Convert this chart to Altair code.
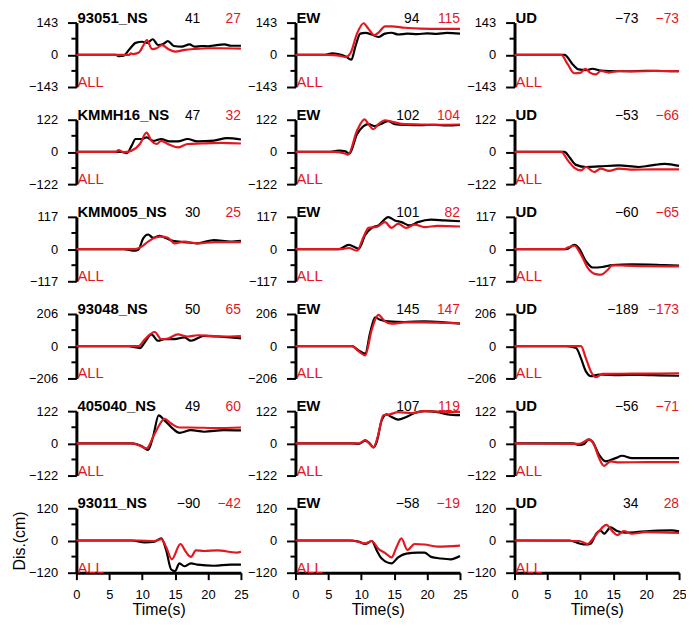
import altair as alt
import pandas as pd

FONT = "Liberation Sans"
RED = "#e4161f"

TIME_TICKS = [0, 5, 10, 15, 20, 25]
STATIONS = ["93051", "KMMH16", "KMM005", "93048", "405040", "93011"]
COMPONENTS = ["NS", "EW", "UD"]
AMPLITUDES = [143, 122, 117, 206, 122, 120]
FINAL_OBS = [[41, 94, -73], [47, 102, -53], [30, 101, -60], [50, 145, -189], [49, 107, -56], [-90, -58, 34]]
FINAL_ALL = [[27, 115, -73], [32, 104, -66], [25, 82, -65], [65, 147, -173], [60, 119, -71], [-42, -19, 28]]

# ---- station 93051 ----
S93051_NS_OBS = [(0, 0), (6, 0), (6.5, -6), (7.2, -4), (8, 22), (9, 53), (10, 58), (10.8, 53), (11.6, 69), (12.4, 43), (13.2, 48), (13.9, 61), (14.8, 39), (16, 36), (17.2, 46), (18, 36), (19, 39), (20, 38), (21, 42), (22.5, 46), (23.5, 40), (25, 40)]
S93051_NS_ALL = [(0, 0), (8, 0), (8.3, 6), (8.6, 3), (9.5, 10), (10.2, 43), (10.7, 65), (11.5, 25), (12.2, 29), (13, 43), (14, 25), (15, 14), (16.5, 22), (18, 26), (20, 29), (22, 29), (25, 27)]
S93051_EW_OBS = [(0, 0), (4.5, 0), (5.6, 7), (6.6, 2), (7.6, -7), (8.5, -22), (9.1, 36), (9.85, 94), (10.6, 97), (11.6, 90), (12.6, 79), (13.6, 94), (14.6, 98), (15.6, 90), (17, 94), (18.5, 92), (20, 95), (21.5, 93), (23, 97), (25, 94)]
S93051_EW_ALL = [(0, 0), (5, 0), (6.6, -4), (7.6, -10), (8.35, 7), (9.35, 94), (10.35, 140), (11.1, 115), (12, 87), (12.7, 101), (13.6, 126), (14.6, 126), (16.6, 120), (19, 116), (22, 115), (25, 115)]
S93051_UD_OBS = [(0, 0), (7.6, 0), (8.85, -43), (9.75, -65), (10.85, -68), (11.85, -62), (12.85, -69), (14.5, -72), (17, -73), (20, -71), (22.5, -72), (25, -73)]
S93051_UD_ALL = [(0, 0), (7.1, 0), (8.1, -43), (9.1, -82), (10.1, -79), (10.75, -62), (11.45, -79), (12.35, -87), (13.1, -72), (14.35, -79), (15.9, -72), (18, -74), (21, -72), (25, -73)]

# ---- station KMMH16 ----
KMMH16_NS_OBS = [(0, 0), (6.9, 0), (7.65, -5), (8.4, 24), (9, 49), (9.9, 49), (10.65, 55), (11.65, 42), (12.9, 49), (14.15, 40), (15.4, 40), (16.9, 49), (18.4, 40), (20.9, 43), (22.9, 52), (25, 47)]
KMMH16_NS_ALL = [(0, 0), (6, 0), (6.4, 7), (7.15, -1), (8.4, 5), (9.65, 30), (10.65, 73), (11.4, 42), (12.15, 30), (12.9, 42), (13.9, 30), (15.4, 17), (16.9, 30), (19, 32), (22, 34), (25, 32)]
KMMH16_EW_OBS = [(0, 0), (5, 0), (6.6, 5), (7.6, 2), (8.2, -7), (9.35, 67), (10.35, 98), (11.1, 105), (12.1, 98), (13.1, 107), (14.1, 117), (15.1, 105), (17, 102), (19, 101), (21, 103), (23, 100), (25, 102)]
KMMH16_EW_ALL = [(0, 0), (6, 0), (7.6, -7), (8, -10), (9.35, 80), (10.5, 123), (11.1, 105), (11.85, 86), (12.6, 105), (13.6, 120), (14.6, 115), (16.6, 105), (19, 104), (22, 103), (25, 104)]
KMMH16_UD_OBS = [(0, 0), (7.6, 0), (8.35, -20), (9.35, -49), (10.85, -57), (12.85, -55), (15.85, -51), (18.85, -57), (20.5, -52), (22.85, -45), (25, -53)]
KMMH16_UD_ALL = [(0, 0), (7.1, 0), (8.1, -32), (9.1, -60), (10.1, -70), (10.85, -57), (12.1, -76), (13.1, -63), (14.35, -72), (15.85, -63), (18, -67), (21, -66), (25, -66)]

# ---- station KMM005 ----
KMM005_NS_OBS = [(0, 0), (7.15, 0), (8.9, -6), (9.4, -3), (10.15, 39), (10.9, 53), (11.65, 41), (12.65, 48), (13.65, 39), (14.65, 30), (16.4, 25), (18.4, 21), (20.9, 33), (23.4, 27), (25, 30)]
KMM005_NS_ALL = [(0, 0), (8.9, 0), (9.9, 9), (10.9, 27), (11.9, 41), (12.9, 45), (13.9, 41), (14.9, 21), (16.4, 27), (18.4, 21), (21, 25), (25, 25)]
KMM005_EW_OBS = [(0, 0), (6.6, 0), (8.1, 15), (9.1, 6), (9.6, 1), (10.6, 51), (11.6, 77), (12.6, 86), (14.1, 116), (15.1, 104), (16.1, 98), (17.35, 86), (18.6, 98), (20.6, 107), (22.6, 104), (25, 101)]
KMM005_EW_ALL = [(0, 0), (7, 0), (8.1, 4), (9.35, -6), (10.35, 45), (11.1, 77), (12.35, 80), (13.6, 98), (14.6, 77), (15.6, 92), (16.85, 77), (18.1, 89), (19.6, 80), (21.6, 84), (25, 82)]
KMM005_UD_OBS = [(0, 0), (7.85, 0), (9.1, 15), (9.75, 4), (10.85, -44), (11.85, -67), (13.35, -65), (14.85, -58), (17.85, -55), (20.35, -56), (22.5, -58), (25, -60)]
KMM005_UD_ALL = [(0, 0), (7.6, 0), (8.1, 6), (9.1, 12), (10.1, -20), (11.1, -67), (12.35, -91), (13.1, -93), (14.1, -77), (14.85, -59), (16.85, -60), (20, -62), (25, -63)]

# ---- station 93048 ----
S93048_NS_OBS = [(0, 0), (7.9, 0), (8.9, -6), (9.65, -12), (10.4, 25), (11.4, 76), (12.4, 35), (13.4, 45), (14.9, 45), (16.4, 56), (17.4, 35), (19.4, 66), (21.4, 62), (23.4, 56), (25, 50)]
S93048_NS_ALL = [(0, 0), (8.4, 0), (9.4, 0), (10.4, 45), (11.9, 91), (12.9, 45), (13.9, 49), (15.4, 76), (16.9, 62), (18.4, 70), (20.4, 66), (23.4, 62), (25, 65)]
S93048_EW_OBS = [(0, 0), (8.6, 0), (9.6, -27), (10.6, -47), (11.35, 87), (12.1, 185), (12.85, 169), (14.1, 159), (16.6, 155), (19.6, 159), (22.6, 153), (25, 145)]
S93048_EW_ALL = [(0, 0), (8.6, 0), (9.6, -33), (10.6, -58), (11.6, 107), (12.6, 200), (13.6, 159), (14.6, 144), (16.6, 152), (19.6, 152), (22.6, 149), (25, 147)]
S93048_UD_OBS = [(0, 0), (7.85, 0), (9.35, -12), (10.1, -78), (10.85, -161), (11.6, -192), (12.85, -181), (15.85, -185), (19, -183), (22, -186), (25, -189)]
S93048_UD_ALL = [(0, 0), (10.1, 0), (10.85, -78), (11.6, -161), (12.35, -198), (13.35, -177), (16, -176), (20, -175), (25, -173)]

# ---- station 405040 ----
S405040_NS_OBS = [(0, 0), (8.4, 0), (9.9, -10), (10.9, -25), (11.65, 25), (12.5, 106), (13.4, 87), (14.65, 56), (15.65, 40), (17.4, 50), (19.4, 44), (22.4, 50), (25, 49)]
S405040_NS_ALL = [(0, 0), (8.4, 0), (9.4, -6), (10.65, -19), (11.9, 37), (13.4, 93), (14.4, 75), (15.65, 60), (17.4, 60), (21, 58), (25, 60)]
S405040_EW_OBS = [(0, 0), (8.6, 0), (9.6, -2), (10.6, 10), (11.2, 2), (11.85, -15), (12.35, 6), (13.1, 87), (13.85, 110), (14.6, 100), (15.6, 90), (16.85, 100), (18.1, 115), (19.6, 122), (21.6, 118), (23.1, 110), (25, 107)]
S405040_EW_ALL = [(0, 0), (9.6, 0), (10.6, 12), (11.2, 0), (11.85, -15), (12.5, 25), (13.35, 106), (14.35, 110), (15.6, 118), (17.6, 115), (19.6, 122), (22, 120), (25, 119)]
S405040_UD_OBS = [(0, 0), (8.85, 0), (9.85, -6), (10.6, -2), (11.25, 15), (11.85, 6), (12.85, -44), (13.85, -68), (15.35, -56), (16.35, -47), (17.85, -56), (20.85, -56), (25, -56)]
S405040_UD_ALL = [(0, 0), (9.85, -2), (11.35, 15), (12.1, -6), (12.85, -56), (13.6, -85), (14.6, -68), (15.85, -72), (20, -71), (25, -71)]

# ---- station 93011 ----
S93011_NS_OBS = [(0, 0), (8.4, 0), (10.4, -7), (11.9, -4), (12.9, 8), (13.65, -37), (14.4, -108), (15, -114), (15.65, -85), (16.4, -96), (17.4, -85), (18.4, -90), (20.9, -94), (23.4, -90), (25, -90)]
S93011_NS_ALL = [(0, 0), (9.4, 0), (11.9, -2), (12.9, 5), (13.65, -25), (14.5, -70), (15.8, -13), (16.65, -43), (17.4, -61), (18.15, -37), (19.4, -39), (21.4, -37), (24.4, -45), (25, -42)]
S93011_EW_OBS = [(0, 0), (8.1, 0), (9.6, -4), (10.6, -13), (11.6, -2), (12.35, -37), (13.1, -67), (14.6, -85), (15.6, -63), (16.85, -49), (18.6, -45), (19.6, -45), (20.6, -61), (22.1, -67), (23.6, -70), (25, -58)]
S93011_EW_ALL = [(0, 0), (8.6, 0), (10.6, -11), (11.6, -2), (12.6, -31), (13.6, -46), (14.6, -63), (15.35, -25), (16.1, 8), (17, -35), (18.1, -13), (19.6, -15), (21.6, -23), (25, -19)]
S93011_UD_OBS = [(0, 0), (8.35, 0), (9.85, -11), (10.85, -15), (11.6, -11), (12.35, 23), (13.1, 37), (13.6, 25), (14.6, 49), (15.6, 35), (16.85, 29), (18.85, 32), (21.85, 37), (23.85, 38), (25, 34)]
S93011_UD_ALL = [(0, 0), (9.85, -2), (11.1, -13), (11.85, 5), (12.85, 35), (13.95, 58), (14.85, 35), (15.6, 20), (16.6, 35), (17.85, 25), (19.85, 31), (25, 28)]

SERIES = [
    [(S93051_NS_OBS, S93051_NS_ALL), (S93051_EW_OBS, S93051_EW_ALL), (S93051_UD_OBS, S93051_UD_ALL)],
    [(KMMH16_NS_OBS, KMMH16_NS_ALL), (KMMH16_EW_OBS, KMMH16_EW_ALL), (KMMH16_UD_OBS, KMMH16_UD_ALL)],
    [(KMM005_NS_OBS, KMM005_NS_ALL), (KMM005_EW_OBS, KMM005_EW_ALL), (KMM005_UD_OBS, KMM005_UD_ALL)],
    [(S93048_NS_OBS, S93048_NS_ALL), (S93048_EW_OBS, S93048_EW_ALL), (S93048_UD_OBS, S93048_UD_ALL)],
    [(S405040_NS_OBS, S405040_NS_ALL), (S405040_EW_OBS, S405040_EW_ALL), (S405040_UD_OBS, S405040_UD_ALL)],
    [(S93011_NS_OBS, S93011_NS_ALL), (S93011_EW_OBS, S93011_EW_ALL), (S93011_UD_OBS, S93011_UD_ALL)],
]

PANEL_W = 166
PANEL_H = 65


def panel(r, c):
    A = AMPLITUDES[r]
    obs, syn = SERIES[r][c]
    bottom = r == len(STATIONS) - 1
    xscale = alt.Scale(domain=[0, 25], nice=False, zero=False)
    yscale = alt.Scale(domain=[-A, A], nice=False, zero=False)

    if bottom:
        xaxis = alt.Axis(values=TIME_TICKS, tickSize=7, tickWidth=2,
                         domainWidth=3, labelPadding=9, titlePadding=0,
                         labelFlush=False, labelOverlap=False, grid=False)
        xtitle = "Time(s)"
    else:
        xaxis = None
        xtitle = None
    yaxis = alt.Axis(values=[-A, 0, A], tickSize=9, tickWidth=2, domainWidth=3,
                     labelPadding=10, titlePadding=1, grid=False,
                     labelFlush=False, labelOverlap=False)
    ytitle = "Dis.(cm)" if (bottom and c == 0) else None

    def enc(ch):
        return ch.encode(
            x=alt.X("t:Q", scale=xscale, axis=xaxis, title=xtitle),
            y=alt.Y("v:Q", scale=yscale, axis=yaxis, title=ytitle),
        )

    obs_df = pd.DataFrame(obs, columns=["t", "v"])
    syn_df = pd.DataFrame(syn, columns=["t", "v"])

    black = enc(alt.Chart(obs_df).mark_line(color="black", strokeWidth=2.2, interpolate="monotone"))
    red = enc(alt.Chart(syn_df).mark_line(color=RED, strokeWidth=2.2, interpolate="monotone"))

    minor_df = pd.DataFrame({"v": [-A / 2, A / 2]})
    minor = alt.Chart(minor_df).mark_rule(color="black", strokeWidth=2).encode(
        y=alt.Y("v:Q", scale=yscale, axis=yaxis, title=ytitle),
        x=alt.value(-5), x2=alt.value(0))

    label = STATIONS[r] + "_NS" if c == 0 else COMPONENTS[c]

    def text(t, v, s, **kw):
        df = pd.DataFrame({"t": [t], "v": [v], "s": [s]})
        return enc(alt.Chart(df).mark_text(font=FONT, baseline="alphabetic", **kw)).encode(text="s:N")

    name = text(0, A, label, align="left", dx=1, fontSize=15, fontWeight="bold", color="black")
    n_obs = text(25, A, str(FINAL_OBS[r][c]).replace("-", "\u2212"), align="right", dx=-41, fontSize=14, color="black")
    n_all = text(25, A, str(FINAL_ALL[r][c]).replace("-", "\u2212"), align="right", dx=0, fontSize=14, color=RED)
    all_lbl = text(0, -A, "ALL", align="left", dx=1, fontSize=15, color=RED)

    return alt.layer(black, red, minor, name, n_obs, n_all, all_lbl).properties(
        width=PANEL_W, height=PANEL_H)


panels = [panel(r, c) for r in range(len(STATIONS)) for c in range(3)]

chart = alt.concat(*panels, columns=3, spacing={"row": 33, "column": 55}, bounds="flush").properties(
    padding={"left": 3, "top": 0, "right": -1, "bottom": 0}
).configure_view(stroke=None).configure_axis(
    labelFont=FONT, titleFont=FONT, labelFontSize=13, titleFontSize=16,
    titleFontWeight="normal", domainColor="black", tickColor="black",
    labelColor="black", titleColor="black"
)

chart.save("out.html", embed_options={"renderer": "svg", "actions": False})
